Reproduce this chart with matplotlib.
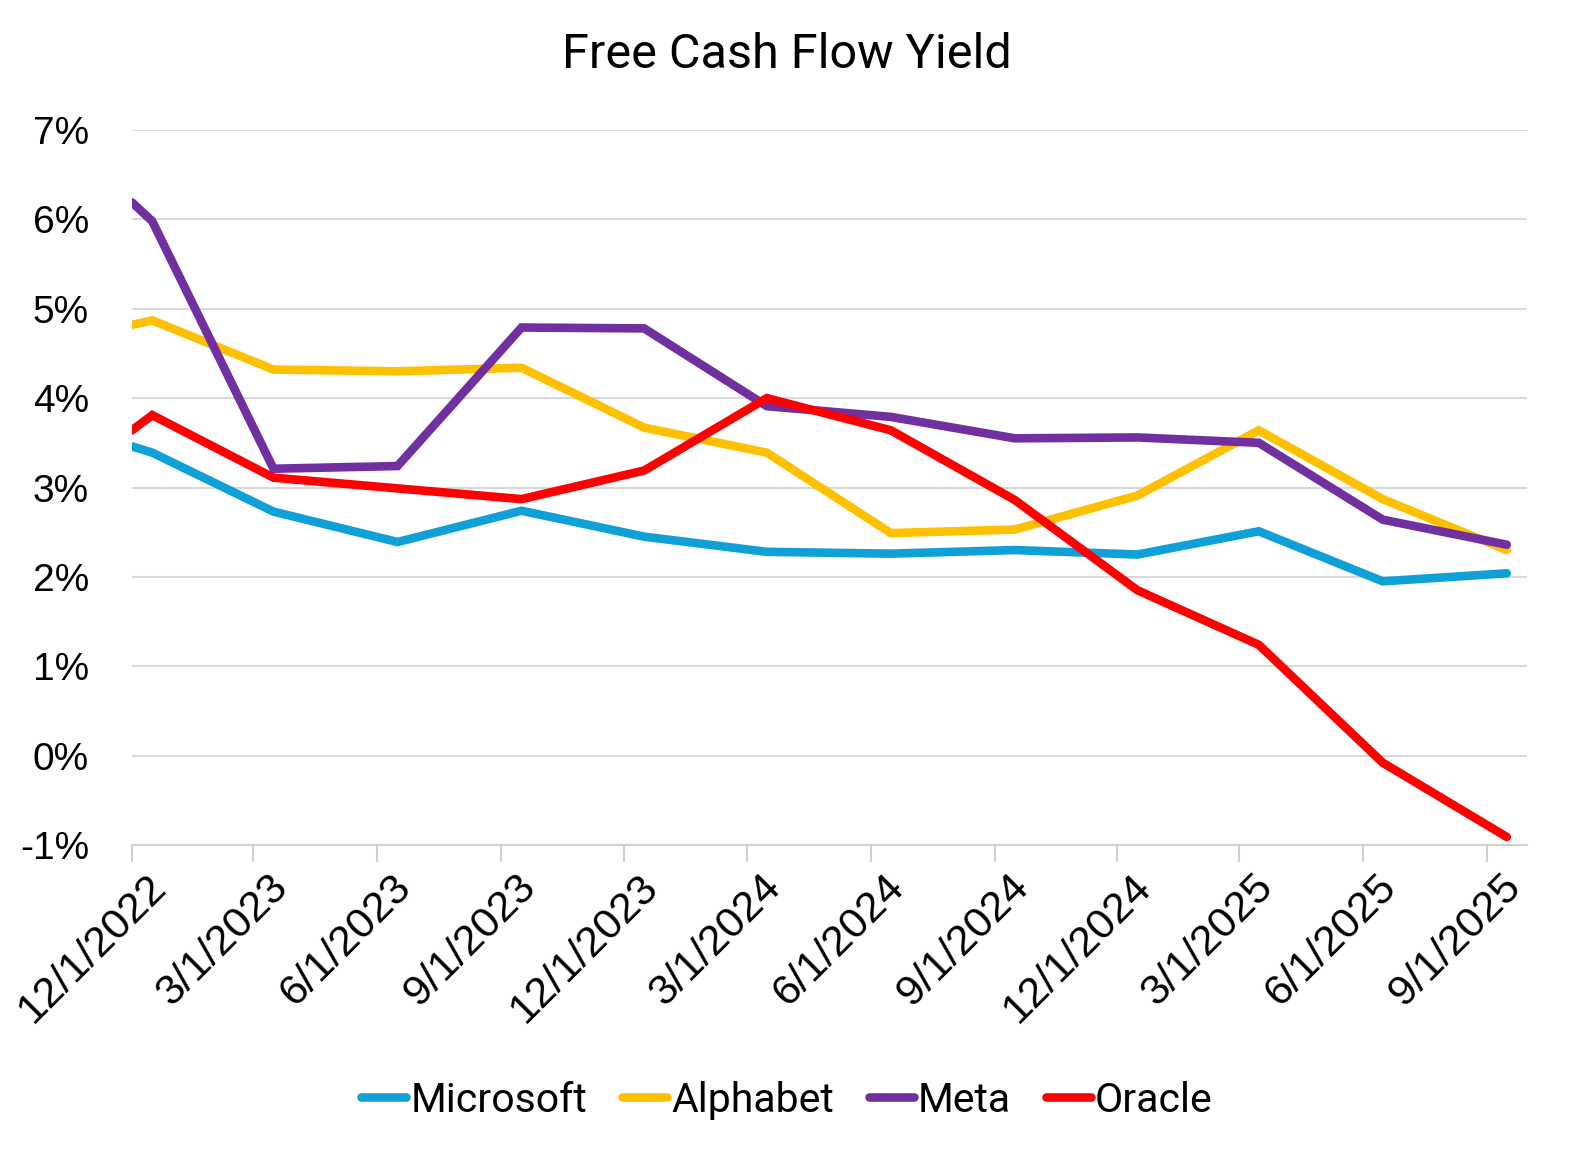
import matplotlib.pyplot as plt
import matplotlib.transforms as mtransforms
import pandas as pd

dates = pd.to_datetime([
    "2022-12-01", "2022-12-16", "2023-03-16", "2023-06-16", "2023-09-16",
    "2023-12-16", "2024-03-16", "2024-06-16", "2024-09-16", "2024-12-16",
    "2025-03-16", "2025-06-16", "2025-09-16",
])
microsoft = [3.46, 3.39, 2.73, 2.39, 2.74, 2.45, 2.28, 2.26, 2.30, 2.25, 2.51, 1.95, 2.04]
alphabet = [4.82, 4.87, 4.32, 4.30, 4.34, 3.67, 3.39, 2.49, 2.53, 2.91, 3.64, 2.87, 2.30]
meta = [6.19, 5.98, 3.21, 3.24, 4.79, 4.78, 3.91, 3.79, 3.55, 3.56, 3.50, 2.64, 2.36]
oracle = [3.64, 3.81, 3.11, 2.99, 2.87, 3.19, 4.00, 3.64, 2.86, 1.85, 1.24, -0.08, -0.91]

series = [
    ("Microsoft", microsoft, "#10A0D8"),
    ("Alphabet", alphabet, "#FFC000"),
    ("Meta", meta, "#7030A0"),
    ("Oracle", oracle, "#FF0000"),
]
tick_dates = pd.date_range("2022-12-01", "2025-09-01", freq="3MS")

plt.rcParams["font.family"] = ["Liberation Sans", "DejaVu Sans"]

fig = plt.figure(figsize=(15.74, 11.54), dpi=100)
ax = fig.add_axes([132 / 1574, 1 - 845 / 1154, (1527 - 132) / 1574, (845 - 130) / 1154])

for name, vals, color in series:
    ax.plot(dates, vals, color=color, lw=6.2, label=name, solid_capstyle="round",
            solid_joinstyle="miter")

ax.set_xlim(pd.Timestamp("2022-12-01"), pd.Timestamp("2025-10-01"))
ax.set_ylim(-1, 7)
ax.set_yticks(range(-1, 8))
ax.set_yticklabels([f"{v}%" for v in range(-1, 8)], fontsize=28)
ax.set_xticks(tick_dates)
ax.set_xticklabels([f"{d.month}/{d.day}/{d.year}" for d in tick_dates],
                   rotation=45, ha="right", rotation_mode="anchor", fontsize=31)
ax.tick_params(axis="y", length=0, pad=31)
ax.tick_params(axis="x", length=12, width=1.5, color="#D0D0D0", pad=4)
shift = mtransforms.ScaledTranslation(14 / 100, 0, fig.dpi_scale_trans)
for lab in ax.get_xticklabels():
    lab.set_transform(lab.get_transform() + shift)

ax.grid(axis="y", color="#D9D9D9", lw=1.5)
ax.set_axisbelow(True)
for s in ["top", "right", "left"]:
    ax.spines[s].set_visible(False)
ax.spines["bottom"].set_color("#D0D0D0")
ax.spines["bottom"].set_linewidth(1.5)

fig.text(0.5, 1 - 55 / 1154, "Free Cash Flow Yield", ha="center", va="center",
         fontsize=35, fontfamily="Roboto")
fig.legend(loc="center", bbox_to_anchor=(0.5, 1 - 1100 / 1154), ncol=4, frameon=False,
           handlelength=1.1, handletextpad=0.1, columnspacing=0.85,
           prop={"family": "Roboto", "size": 29.5})

fig.savefig("out.png", dpi=100)
